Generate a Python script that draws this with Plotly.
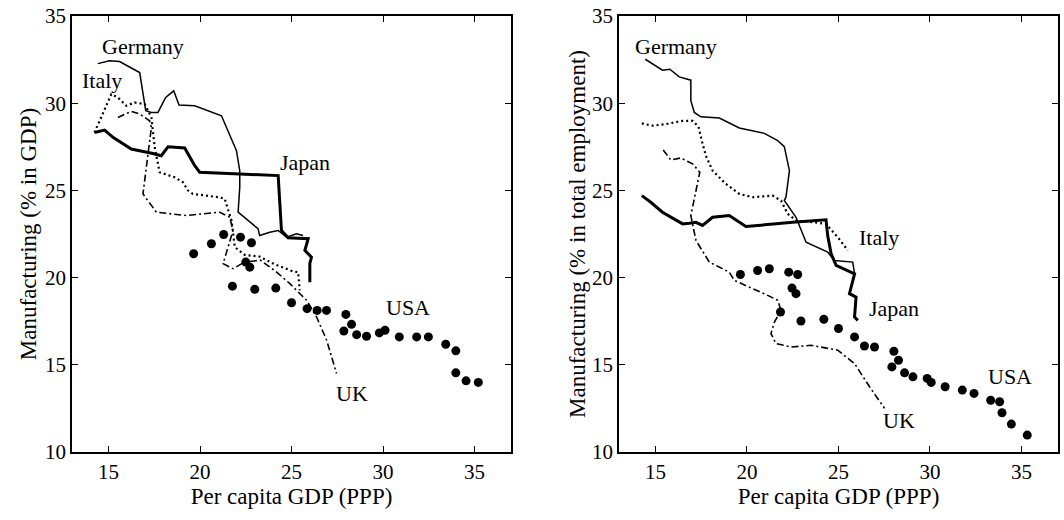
import plotly.graph_objects as go

FONT = "Liberation Serif"

# ---------------- Left panel: manufacturing share of GDP ----------------
germany_gdp_x = [14.41, 15.05, 15.6, 16.7, 17.03, 17.34, 17.7, 18.12, 18.56, 18.85, 19.71, 21.17, 21.99,
                 22.17, 22.17, 22.08, 23.17, 23.26, 23.81, 24.27, 24.73, 25.27, 25.63]
germany_gdp_y = [32.27, 32.43, 32.39, 31.76, 29.57, 29.47, 29.47, 30.33, 30.71, 29.89, 29.85, 29.28, 27.28,
                 26.13, 25.18, 23.75, 22.8, 22.41, 22.6, 22.7, 22.32, 22.51, 22.41]

japan_gdp_x = [14.23, 14.78, 15.24, 16.24, 17.42, 17.88, 18.25, 19.16, 19.71, 19.98, 22.17, 24.27, 24.45,
               24.81, 25.91, 25.73, 26.09, 26.0, 26.0]
japan_gdp_y = [28.32, 28.46, 28.04, 27.37, 27.12, 26.99, 27.5, 27.43, 26.42, 26.04, 25.94, 25.85, 22.7,
               22.28, 22.23, 21.56, 21.17, 20.81, 19.74]

italy_gdp_x = [14.23, 15.15, 15.51, 15.97, 16.42, 16.97, 17.34, 17.52, 17.79, 18.61, 19.07, 19.34, 19.61,
               21.08, 21.35, 21.53, 21.72, 21.9, 22.44, 23.26, 24.1, 25.1, 25.36, 25.45]
italy_gdp_y = [28.32, 30.52, 30.33, 29.85, 30.04, 29.95, 29.18, 27.47, 26.04, 25.75, 25.46, 24.99, 24.8,
               24.6, 24.51, 23.84, 23.27, 21.75, 21.3, 21.2, 20.75, 20.35, 20.31, 19.27]

uk_gdp_x = [15.51, 16.24, 16.7, 17.24, 17.34, 17.15, 16.88, 17.61, 19.25, 21.08, 21.62, 21.8, 21.26, 21.8,
            22.44, 23.3, 24.2, 24.91, 25.82, 26.37, 26.92, 27.46]
uk_gdp_y = [29.18, 29.53, 29.38, 28.99, 28.61, 26.89, 24.8, 23.75, 23.56, 23.75, 23.46, 22.7, 20.8, 20.51,
            20.89, 21.0, 20.3, 19.65, 18.7, 17.74, 16.41, 14.5]

usa_gdp_x = [19.65, 20.62, 21.29, 22.21, 22.81, 22.5, 22.72, 21.77, 22.99, 24.14, 25.0, 25.85, 26.4, 26.91,
             27.97, 28.28, 27.86, 28.56, 29.1, 29.8, 30.11, 30.89, 31.84, 32.48, 33.43, 33.98, 33.98, 34.54,
             35.21]
usa_gdp_y = [21.37, 21.94, 22.47, 22.32, 22.0, 20.89, 20.6, 19.51, 19.33, 19.4, 18.56, 18.22, 18.12, 18.12,
             17.89, 17.32, 16.94, 16.73, 16.64, 16.83, 16.98, 16.6, 16.6, 16.6, 16.18, 15.8, 14.54, 14.08,
             13.99]

# ---------------- Right panel: manufacturing share of employment ----------------
germany_emp_x = [14.44, 15.38, 15.78, 16.3, 16.93, 16.93, 17.12, 17.48, 18.49, 19.58, 20.95, 21.68, 22.04,
                 22.32, 22.13, 22.04, 22.68, 23.23, 24.41, 24.78, 25.78, 25.88]
germany_emp_y = [32.52, 31.89, 31.95, 31.51, 31.32, 30.14, 29.47, 29.22, 29.15, 28.58, 28.27, 27.85, 27.51,
                 26.13, 24.61, 24.42, 23.46, 22.03, 21.46, 20.98, 20.89, 20.22]

japan_emp_x = [14.25, 14.74, 15.38, 16.48, 16.84, 17.21, 17.57, 18.12, 19.03, 19.94, 22.5, 24.32, 24.41,
               24.6, 24.87, 25.88, 25.6, 25.96, 25.88, 26.06]
japan_emp_y = [24.7, 24.32, 23.75, 23.08, 23.12, 23.17, 22.99, 23.46, 23.56, 22.93, 23.17, 23.31, 22.41,
               21.37, 20.7, 20.22, 19.08, 18.88, 17.74, 17.55]

italy_emp_x = [14.25, 14.84, 15.56, 16.48, 17.03, 17.35, 17.53, 17.75, 18.12, 18.85, 19.58, 20.31, 21.4,
               21.86, 22.22, 22.68, 23.69, 24.32, 24.96, 25.51]
italy_emp_y = [28.84, 28.71, 28.8, 28.99, 28.99, 28.65, 27.85, 26.99, 26.13, 25.37, 24.8, 24.61, 24.7,
               24.42, 23.66, 23.27, 23.17, 23.08, 22.32, 21.56]

uk_emp_x = [15.42, 15.84, 16.38, 17.03, 17.42, 17.21, 16.93, 17.21, 17.94, 19.03, 19.31, 21.13, 21.68, 21.86,
            21.5, 21.31, 21.58, 22.41, 23.5, 24.96, 25.88, 26.7, 27.52]
uk_emp_y = [27.32, 26.74, 26.86, 26.52, 26.04, 24.99, 23.56, 22.13, 20.89, 20.31, 19.84, 18.98, 18.7, 18.12,
            17.45, 16.79, 16.22, 16.02, 16.12, 15.84, 15.07, 13.74, 12.5]

usa_emp_x = [19.64, 20.58, 21.22, 22.28, 22.77, 22.46, 22.68, 21.83, 22.95, 24.2, 25.0, 25.88, 26.42, 26.97,
             28.03, 28.28, 27.92, 28.61, 29.07, 29.85, 30.07, 30.83, 31.77, 32.41, 33.32, 33.81, 33.94, 34.45,
             35.32]
usa_emp_y = [20.18, 20.41, 20.51, 20.31, 20.18, 19.4, 19.08, 18.03, 17.51, 17.61, 17.08, 16.6, 16.08, 16.02,
             15.78, 15.26, 14.88, 14.54, 14.31, 14.22, 13.99, 13.74, 13.55, 13.36, 12.97, 12.88, 12.25, 11.6,
             10.97]

x_ticks = [15, 20, 25, 30, 35]
y_ticks = [10, 15, 20, 25, 30, 35]

fig = go.Figure()

def add_panel(xa, ya, ger, jap, ita, uk, usa):
    fig.add_trace(go.Scatter(x=ger[0], y=ger[1], mode="lines", xaxis=xa, yaxis=ya,
                             line=dict(color="black", width=1.5), showlegend=False))
    fig.add_trace(go.Scatter(x=jap[0], y=jap[1], mode="lines", xaxis=xa, yaxis=ya,
                             line=dict(color="black", width=3), showlegend=False))
    fig.add_trace(go.Scatter(x=ita[0], y=ita[1], mode="lines", xaxis=xa, yaxis=ya,
                             line=dict(color="black", width=2.2, dash="2px,3px"), showlegend=False))
    fig.add_trace(go.Scatter(x=uk[0], y=uk[1], mode="lines", xaxis=xa, yaxis=ya,
                             line=dict(color="black", width=1.6, dash="7px,3px,2px,3px"), showlegend=False))
    fig.add_trace(go.Scatter(x=usa[0], y=usa[1], mode="markers", xaxis=xa, yaxis=ya,
                             marker=dict(color="black", size=9), showlegend=False))

add_panel("x", "y", (germany_gdp_x, germany_gdp_y), (japan_gdp_x, japan_gdp_y),
          (italy_gdp_x, italy_gdp_y), (uk_gdp_x, uk_gdp_y), (usa_gdp_x, usa_gdp_y))
add_panel("x2", "y2", (germany_emp_x, germany_emp_y), (japan_emp_x, japan_emp_y),
          (italy_emp_x, italy_emp_y), (uk_emp_x, uk_emp_y), (usa_emp_x, usa_emp_y))

labels_left = [("Germany", 16.86, 33.28, "center"), ("Italy", 14.62, 31.28, "center"),
               ("Japan", 24.27, 26.6, "left"), ("USA", 31.37, 18.31, "center"), ("UK", 28.28, 13.36, "center")]
labels_right = [("Germany", 16.11, 33.28, "center"), ("Italy", 27.24, 22.32, "center"),
                ("Japan", 28.06, 18.22, "center"), ("USA", 34.36, 14.31, "center"), ("UK", 28.29, 11.83, "center")]

for txt, x, y, anc in labels_left:
    fig.add_annotation(x=x, y=y, xref="x", yref="y", text=txt, showarrow=False, xanchor=anc,
                       font=dict(family=FONT, size=22, color="black"))
for txt, x, y, anc in labels_right:
    fig.add_annotation(x=x, y=y, xref="x2", yref="y2", text=txt, showarrow=False, xanchor=anc,
                       font=dict(family=FONT, size=22, color="black"))

axis_common = dict(showline=True, linecolor="black", linewidth=1.6, mirror="ticks", ticks="inside",
                   ticklen=6, tickwidth=1.4, tickcolor="black", showgrid=False, zeroline=False,
                   tickfont=dict(family=FONT, size=21, color="black"))

TITLE_FONT = dict(family=FONT, size=23, color="black")

fig.update_layout(
    width=1064, height=520, margin=dict(l=72, r=4, t=15, b=68),
    paper_bgcolor="white", plot_bgcolor="white",
    xaxis=dict(domain=[0, 0.4453], range=[13, 37], tickvals=x_ticks, anchor="y",
               title=dict(text="Per capita GDP (PPP)", font=TITLE_FONT, standoff=5),
               **axis_common),
    yaxis=dict(domain=[0, 1], range=[10, 35], tickvals=y_ticks, anchor="x",
               title=dict(text="Manufacturing (% in GDP)", font=TITLE_FONT, standoff=2),
               **axis_common),
    xaxis2=dict(domain=[0.5547, 1], range=[13, 37], tickvals=x_ticks, anchor="y2",
                title=dict(text="Per capita GDP (PPP)", font=TITLE_FONT, standoff=5),
                **axis_common),
    yaxis2=dict(domain=[0, 1], range=[10, 35], tickvals=y_ticks, anchor="x2",
                title=dict(text="Manufacturing (% in total employment)", font=TITLE_FONT, standoff=0),
                **axis_common),
)

fig.write_html("out.html")
